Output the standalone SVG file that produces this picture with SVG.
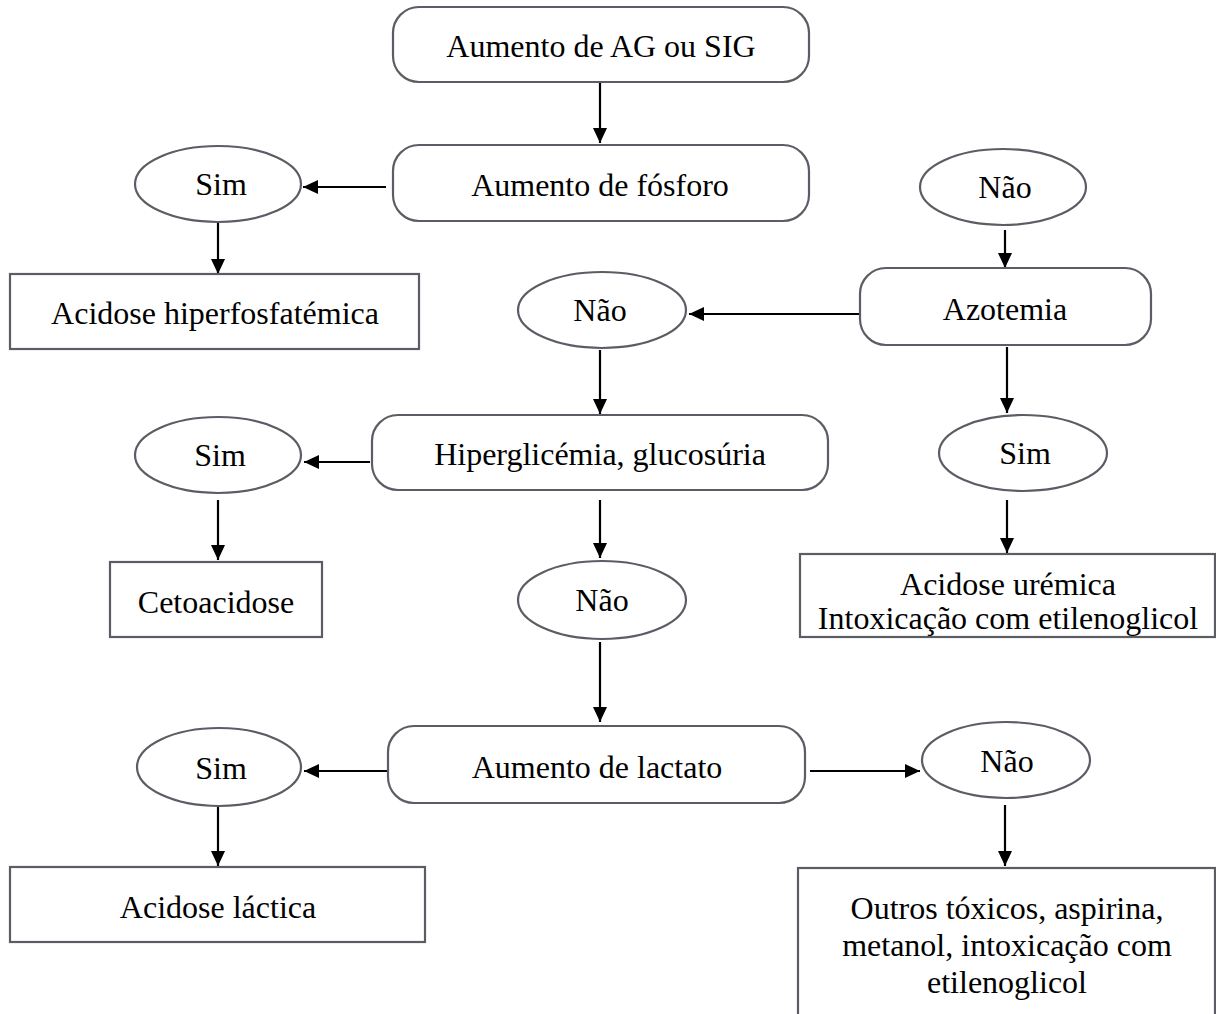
<svg xmlns="http://www.w3.org/2000/svg" width="1216" height="1014" viewBox="0 0 1216 1014">
<style>
.n{fill:#fff;stroke:#5a5e64;stroke-width:2.2}
.t{font-family:'Liberation Serif','Times New Roman',serif;font-size:32px;fill:#000;text-anchor:middle;dominant-baseline:central}
.c{stroke:#000;stroke-width:2.2;fill:none;marker-end:url(#ah)}
</style>
<defs>
<marker id="ah" markerUnits="userSpaceOnUse" markerWidth="16" markerHeight="14" refX="15" refY="7" orient="auto">
<path d="M0,0 L15,7 L0,14 z" fill="#000"/>
</marker>
</defs>
<rect width="1216" height="1014" fill="#fff"/>
<g id="connectors">
<line class="c" x1="600" y1="82" x2="600" y2="143"/>
<line class="c" x1="386" y1="187" x2="303" y2="187"/>
<line class="c" x1="218" y1="222" x2="218" y2="274"/>
<line class="c" x1="1005" y1="230" x2="1005" y2="268"/>
<line class="c" x1="860" y1="314" x2="689" y2="314"/>
<line class="c" x1="600" y1="350" x2="600" y2="414"/>
<line class="c" x1="1007" y1="347" x2="1007" y2="413"/>
<line class="c" x1="370" y1="462" x2="304" y2="462"/>
<line class="c" x1="218" y1="500" x2="218" y2="560"/>
<line class="c" x1="600" y1="500" x2="600" y2="558"/>
<line class="c" x1="1007" y1="500" x2="1007" y2="553"/>
<line class="c" x1="600" y1="642" x2="600" y2="722"/>
<line class="c" x1="388" y1="771" x2="304" y2="771"/>
<line class="c" x1="218" y1="805" x2="218" y2="866"/>
<line class="c" x1="810" y1="771" x2="920" y2="771"/>
<line class="c" x1="1005" y1="805" x2="1005" y2="866"/>
</g>
<g id="n1"><rect class="n" x="393" y="7" width="416" height="75" rx="26"/><text class="t" x="601" y="46">Aumento de AG ou SIG</text></g>
<g id="n2"><rect class="n" x="393" y="145" width="416" height="76" rx="26"/><text class="t" x="600" y="185">Aumento de fósforo</text></g>
<g id="n3"><ellipse class="n" cx="218" cy="184" rx="83" ry="38"/><text class="t" x="221" y="184">Sim</text></g>
<g id="n4"><rect class="n" x="10" y="274" width="409" height="75"/><text class="t" x="215" y="313">Acidose hiperfosfatémica</text></g>
<g id="n5"><ellipse class="n" cx="1003" cy="187" rx="83" ry="38"/><text class="t" x="1005" y="187">Não</text></g>
<g id="n6"><rect class="n" x="860" y="268" width="291" height="77" rx="26"/><text class="t" x="1005" y="309">Azotemia</text></g>
<g id="n7"><ellipse class="n" cx="602" cy="310" rx="84" ry="38"/><text class="t" x="600" y="310">Não</text></g>
<g id="n8"><rect class="n" x="372" y="415" width="456" height="75" rx="26"/><text class="t" x="600" y="454">Hiperglicémia, glucosúria</text></g>
<g id="n9"><ellipse class="n" cx="218" cy="455" rx="83" ry="38"/><text class="t" x="220" y="455">Sim</text></g>
<g id="n10"><ellipse class="n" cx="1023" cy="453" rx="84" ry="38"/><text class="t" x="1025" y="453">Sim</text></g>
<g id="n11"><rect class="n" x="110" y="562" width="212" height="75"/><text class="t" x="216" y="602">Cetoacidose</text></g>
<g id="n12"><ellipse class="n" cx="602" cy="600" rx="84" ry="39"/><text class="t" x="602" y="600">Não</text></g>
<g id="n13"><rect class="n" x="800" y="554" width="415" height="83"/><text class="t" x="1008" y="584">Acidose urémica</text><text class="t" x="1008" y="618">Intoxicação com etilenoglicol</text></g>
<g id="n14"><rect class="n" x="388" y="726" width="417" height="77" rx="26"/><text class="t" x="597" y="767">Aumento de lactato</text></g>
<g id="n15"><ellipse class="n" cx="219" cy="767" rx="82" ry="39"/><text class="t" x="221" y="768">Sim</text></g>
<g id="n16"><ellipse class="n" cx="1006" cy="760" rx="84" ry="38"/><text class="t" x="1007" y="761">Não</text></g>
<g id="n17"><rect class="n" x="10" y="867" width="415" height="75"/><text class="t" x="218" y="907">Acidose láctica</text></g>
<g id="n18"><rect class="n" x="798" y="868" width="417" height="160"/><text class="t" x="1007" y="908">Outros tóxicos, aspirina,</text><text class="t" x="1007" y="945">metanol, intoxicação com</text><text class="t" x="1007" y="982">etilenoglicol</text></g>
</svg>
